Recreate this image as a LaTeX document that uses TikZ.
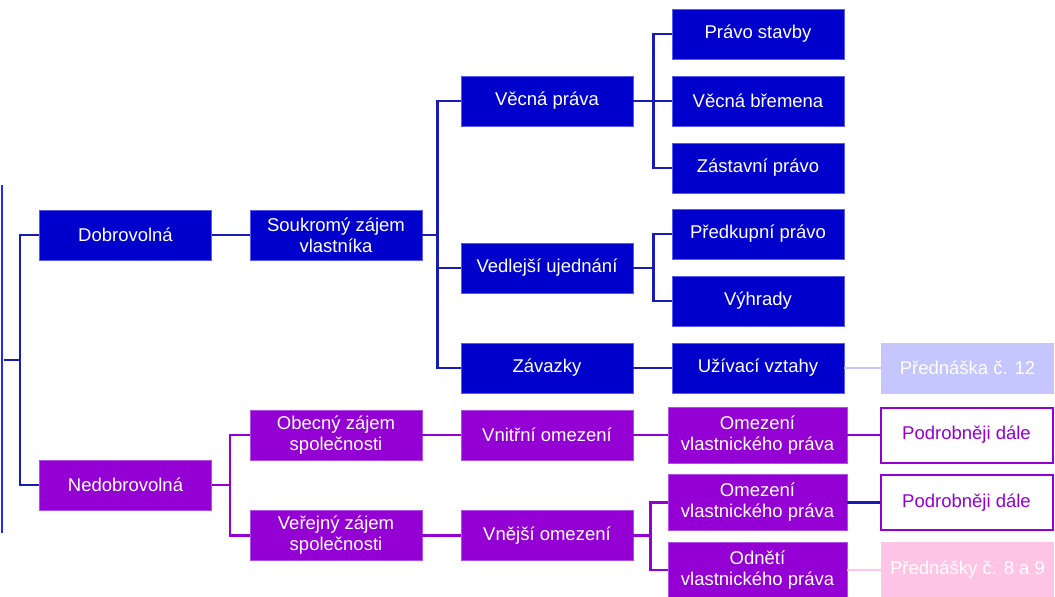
\documentclass[tikz,border=0pt]{standalone}
\usepackage{fontspec}
\setmainfont{Liberation Sans}
\definecolor{bbox}{HTML}{0000CC}
\definecolor{bedge}{HTML}{5A5AF0}
\definecolor{bline}{HTML}{1A1AB4}
\definecolor{pbox}{HTML}{9400D3}
\definecolor{pedge}{HTML}{B050E8}
\definecolor{lav}{HTML}{C6C6FF}
\definecolor{pink}{HTML}{FFC4E6}
\begin{document}
\begin{tikzpicture}[x=1pt,y=-1pt,
  box/.style={rectangle,minimum width=172pt,minimum height=50pt,inner sep=0pt,
    align=center,text=white,font=\fontsize{18.5}{21}\selectfont,line width=0.8pt},
  bluebox/.style={box,fill=bbox,draw=bedge},
  purpbox/.style={box,fill=pbox,draw=pedge},
  widebox/.style={purpbox,minimum width=179pt,minimum height=56pt},
  outbox/.style={box,fill=white,draw=pbox,line width=2pt,text=pbox,minimum width=172pt,minimum height=55pt},
  lavbox/.style={box,fill=lav,draw=lav},
  pinkbox/.style={box,fill=pink,draw=pink,minimum height=55pt},
  bconn/.style={draw=bline,line width=2.4pt},
  pconn/.style={draw=pbox,line width=2.4pt}]
\useasboundingbox (0,0) rectangle (1055,597);

% nodes
\node[bluebox] (dob) at (125.5,235) {Dobrovolná};
\node[purpbox] (ned) at (125.5,485) {Nedobrovolná};
\node[bluebox] (souk) at (336,235) {Soukromý zájem\\vlastníka};
\node[bluebox] (vecna) at (547,101) {Věcná práva};
\node[bluebox] (vedl) at (547,268) {Vedlejší ujednání};
\node[bluebox] (zav) at (547,368) {Závazky};
\node[bluebox] (pst) at (758,34) {Právo stavby};
\node[bluebox] (vbr) at (758,101) {Věcná břemena};
\node[bluebox] (zast) at (758,168) {Zástavní právo};
\node[bluebox] (pred) at (758,234) {Předkupní právo};
\node[bluebox] (vyh) at (758,301) {Výhrady};
\node[bluebox] (uziv) at (758,368) {Užívací vztahy};
\node[lavbox] (p12) at (967.5,368) {Přednáška č. 12};
\node[purpbox] (obec) at (336,435) {Obecný zájem\\společnosti};
\node[purpbox] (verej) at (336,535.5) {Veřejný zájem\\společnosti};
\node[purpbox] (vnit) at (547,435) {Vnitřní omezení};
\node[purpbox] (vnej) at (547,535.5) {Vnější omezení};
\node[widebox] (om1) at (757.5,435) {Omezení\\vlastnického práva};
\node[widebox] (om2) at (757.5,502.5) {Omezení\\vlastnického práva};
\node[widebox] (odn) at (757.5,570) {Odnětí\\vlastnického práva};
\node[outbox] (pd1) at (966.5,435) {Podrobněji dále};
\node[outbox] (pd2) at (966.5,502.5) {Podrobněji dále};
\node[pinkbox] (p89) at (967.5,570) {Přednášky č. 8 a 9};

% left bar
\coordinate (lt) at (2,185);
\coordinate (lb) at (2,533);
\coordinate (root) at (4,360);
\draw[draw=blue!85!white,line width=1.8pt] (lt) -- (lb);

% connectors
\draw[bconn] (root) -- (20,360);
\draw[bconn] (20,360) |- (dob.west);
\draw[bconn] (20,360) |- (ned.west);
\draw[bconn] (dob.east) -- (souk.west);
\draw[bconn] (souk.east) -- ++(15,0) coordinate (s1);
\draw[bconn] (s1) |- (vecna.west);
\draw[bconn] (s1) |- (vedl.west);
\draw[bconn] (s1) |- (zav.west);
\draw[bconn] (vecna.east) -- ++(20,0) coordinate (v1);
\draw[bconn] (v1) |- (pst.west);
\draw[bconn] (v1) |- (vbr.west);
\draw[bconn] (v1) |- (zast.west);
\draw[bconn] (vedl.east) -- ++(20,0) coordinate (v2);
\draw[bconn] (v2) |- (pred.west);
\draw[bconn] (v2) |- (vyh.west);
\draw[bconn] (zav.east) -- (uziv.west);
\draw[draw=lav,line width=2.4pt] (uziv.east) -- (p12.west);

\draw[pconn] (ned.east) -- ++(18,0) coordinate (n1);
\draw[pconn] (n1) |- (obec.west);
\draw[pconn] (n1) |- (verej.west);
\draw[pconn] (obec.east) -- (vnit.west);
\draw[pconn] (verej.east) -- (vnej.west);
\draw[pconn] (vnit.east) -- (om1.west);
\draw[pconn] (vnej.east) -- ++(17,0) coordinate (n2);
\draw[pconn] (n2) |- (om2.west);
\draw[pconn] (n2) |- (odn.west);
\draw[pconn] (om1.east) -- (pd1.west);
\draw[bconn] (om2.east) -- (pd2.west);
\draw[draw=pink,line width=2.4pt] (odn.east) -- (p89.west);
\end{tikzpicture}
\end{document}
